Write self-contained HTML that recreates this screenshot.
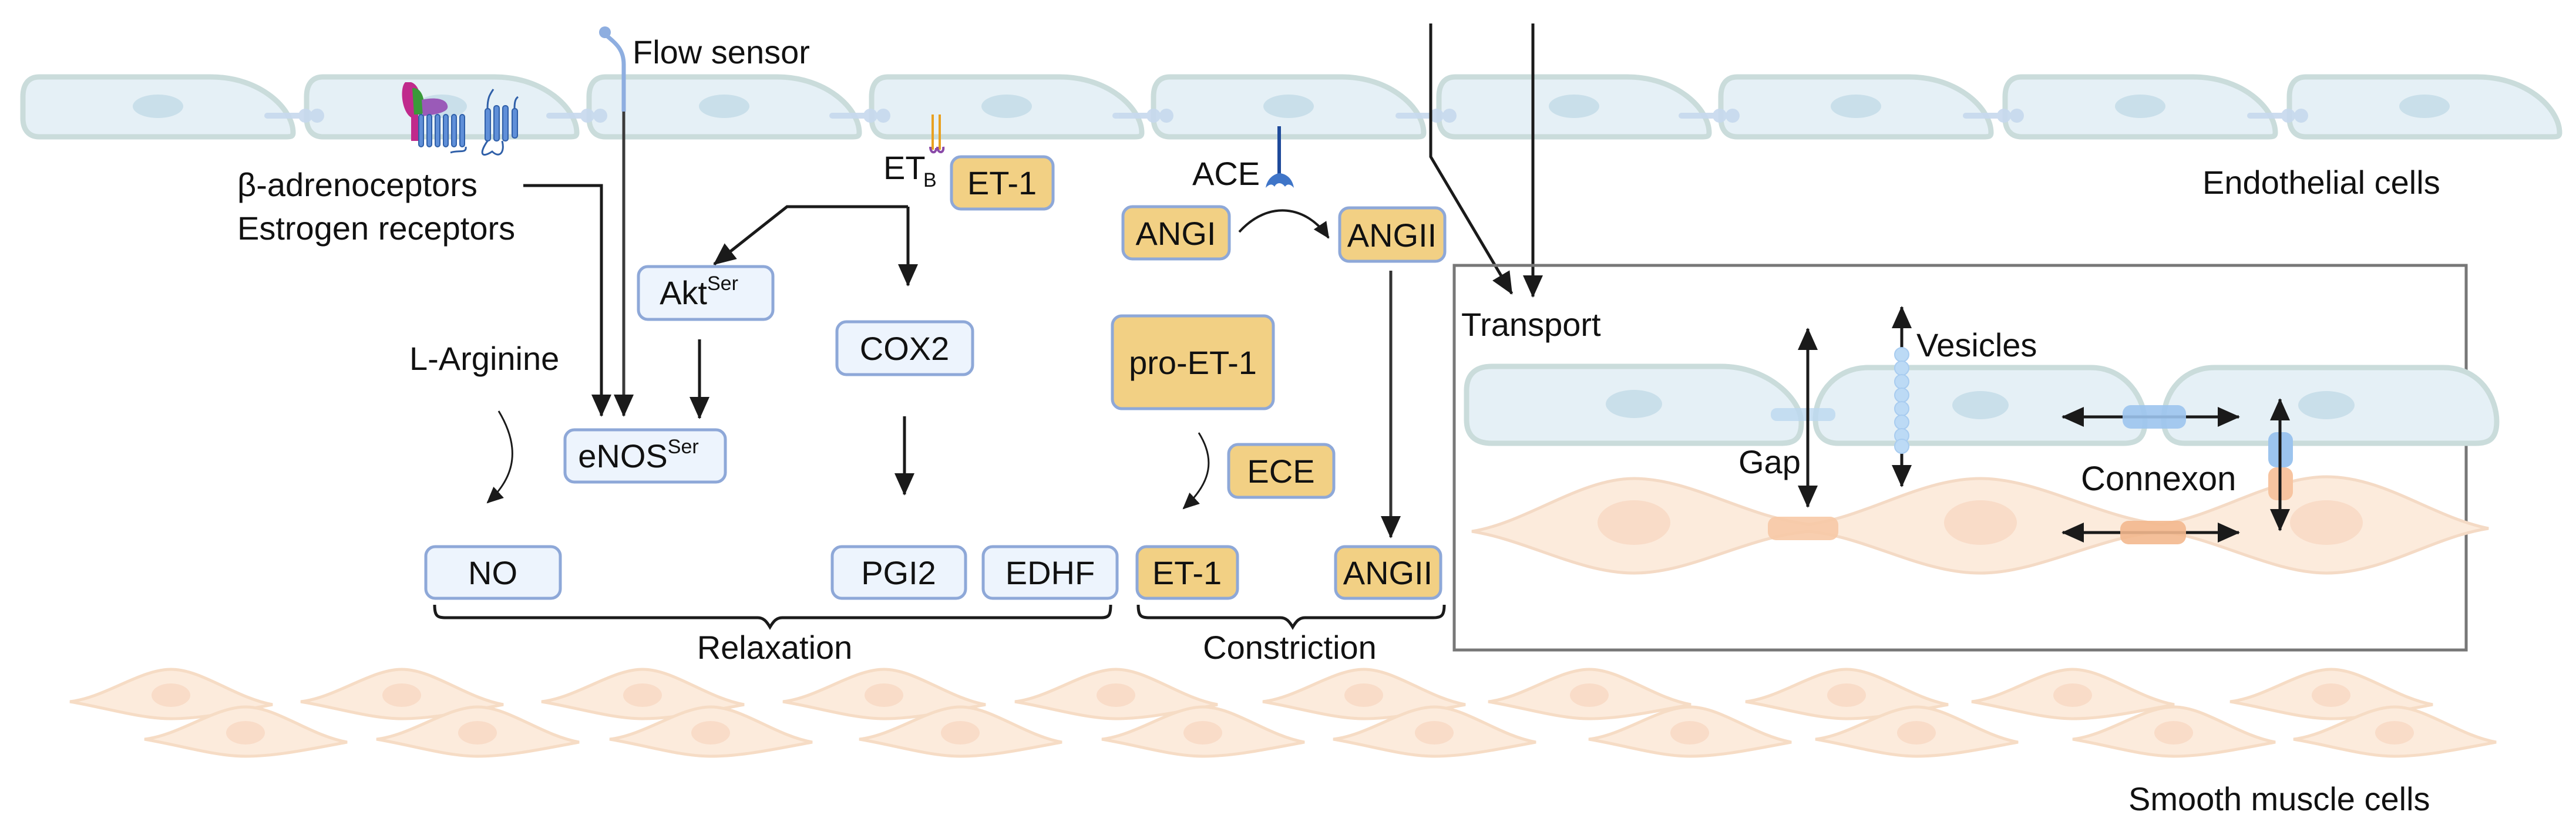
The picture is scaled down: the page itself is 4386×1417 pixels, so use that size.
<!DOCTYPE html>
<html><head><meta charset="utf-8"><style>
html,body{margin:0;padding:0;background:#fff}
svg{display:block}
text{font-family:"Liberation Sans",sans-serif;fill:#111}
</style></head><body>
<svg width="4386" height="1417" viewBox="0 0 4386 1417" xmlns="http://www.w3.org/2000/svg">
<defs>
<marker id="ah" markerUnits="userSpaceOnUse" markerWidth="40" markerHeight="34" refX="36" refY="17" orient="auto">
<path d="M0,0 L38,17 L0,34 Z" fill="#1a1a1a"/></marker>
<marker id="ahs" markerUnits="userSpaceOnUse" markerWidth="30" markerHeight="26" refX="26" refY="13" orient="auto">
<path d="M0,0 L28,13 L0,26 Z" fill="#1a1a1a"/></marker>
<marker id="ab" markerUnits="userSpaceOnUse" markerWidth="40" markerHeight="34" refX="4" refY="17" orient="auto">
<path d="M40,0 L2,17 L40,34 Z" fill="#1a1a1a"/></marker>
<g id="ec">
<path d="M28,0 H320 C405,0 460,55 460,95 C460,102 455,102 448,102 H28 C10,102 0,90 0,70 V34 C0,12 10,0 28,0Z" fill="#e5f0f6" stroke="#cadcdb" stroke-width="9"/>
<ellipse cx="230" cy="50" rx="43" ry="20" fill="#c9dfea"/>
</g>
<g id="sm">
<path d="M0,55 C60,48 120,0 172,0 C225,0 280,48 345,60 C280,72 225,84 172,84 C120,84 60,65 0,55Z" fill="#fcebdc" stroke="#f6dcc5" stroke-width="5"/>
<ellipse cx="172" cy="44" rx="33" ry="20" fill="#f9dcc8"/>
</g>
</defs>

<!-- endothelial row -->
<g>
<use href="#ec" x="39" y="131"/><use href="#ec" x="522" y="131"/><use href="#ec" x="1003" y="131"/>
<use href="#ec" x="1484" y="131"/><use href="#ec" x="1964" y="131"/><use href="#ec" x="2450" y="131"/>
<use href="#ec" x="2930" y="131"/><use href="#ec" x="3414" y="131"/><use href="#ec" x="3898" y="131"/>
</g>
<g fill="#c7d9ee" opacity="0.9">
<rect x="450" y="192" width="90" height="10" rx="5"/><circle cx="520" cy="197" r="12"/><circle cx="540" cy="197" r="12"/>
<rect x="930" y="192" width="90" height="10" rx="5"/><circle cx="1000" cy="197" r="12"/><circle cx="1022" cy="197" r="12"/>
<rect x="1412" y="192" width="90" height="10" rx="5"/><circle cx="1482" cy="197" r="12"/><circle cx="1504" cy="197" r="12"/>
<rect x="1894" y="192" width="90" height="10" rx="5"/><circle cx="1964" cy="197" r="12"/><circle cx="1986" cy="197" r="12"/>
<rect x="2376" y="192" width="90" height="10" rx="5"/><circle cx="2446" cy="197" r="12"/><circle cx="2468" cy="197" r="12"/>
<rect x="2858" y="192" width="90" height="10" rx="5"/><circle cx="2928" cy="197" r="12"/><circle cx="2950" cy="197" r="12"/>
<rect x="3342" y="192" width="90" height="10" rx="5"/><circle cx="3412" cy="197" r="12"/><circle cx="3434" cy="197" r="12"/>
<rect x="3826" y="192" width="90" height="10" rx="5"/><circle cx="3896" cy="197" r="12"/><circle cx="3918" cy="197" r="12"/>
</g>

<!-- receptors -->
<g>
<path d="M690,140 C680,150 684,190 700,200 L700,240 L712,240 L712,190 C720,170 715,145 700,140Z" fill="#c02a8c"/>
<path d="M702,150 C725,148 725,190 718,195 L705,195Z" fill="#3a9a3a"/>
<path d="M718,170 C740,165 760,168 762,180 C765,192 740,195 720,198Z" fill="#9a5ab8"/>
<g fill="#5f8fd8" stroke="#2f5fa8" stroke-width="2">
<rect x="713" y="195" width="8" height="55" rx="4"/><rect x="727" y="195" width="8" height="55" rx="4"/><rect x="741" y="195" width="8" height="55" rx="4"/><rect x="755" y="195" width="8" height="55" rx="4"/><rect x="769" y="195" width="8" height="55" rx="4"/><rect x="783" y="195" width="8" height="55" rx="4"/>
<rect x="826" y="185" width="9" height="55" rx="4"/><rect x="841" y="180" width="9" height="60" rx="4"/><rect x="856" y="180" width="9" height="60" rx="4"/><rect x="872" y="185" width="9" height="50" rx="4"/>
</g>
<path d="M767,260 C780,255 795,262 793,250 M830,240 C815,262 820,270 838,258 C850,270 860,260 855,240 M830,185 C830,165 835,160 840,152 M876,185 C876,172 878,168 882,165" stroke="#2f5fa8" stroke-width="3" fill="none"/>
</g>

<!-- flow sensor -->
<circle cx="1030" cy="55" r="10" fill="#8eaee0"/>
<path d="M1032,60 C1050,75 1062,85 1062,110 L1062,190" stroke="#8eaee0" stroke-width="7" fill="none"/>
<line x1="1062" y1="190" x2="1062" y2="708" stroke="#3a3a3a" stroke-width="5" marker-end="url(#ah)"/>
<text x="1077" y="108" font-size="56">Flow sensor</text>

<!-- beta / estrogen -->
<text x="404" y="334" font-size="56">β-adrenoceptors</text>
<text x="404" y="408" font-size="56">Estrogen receptors</text>
<polyline points="891,316 1024,316 1024,708" stroke="#1a1a1a" stroke-width="5" fill="none" marker-end="url(#ah)"/>

<!-- ETB -->
<g stroke-width="4" fill="none"><path d="M1588,195 V255 M1600,195 V255" stroke="#e8a020"/><path d="M1584,250 C1584,262 1594,262 1594,252 M1596,250 C1596,262 1608,262 1606,250" stroke="#8a4aa8"/></g>
<text x="1504" y="305" font-size="56">ET</text><text x="1572" y="318" font-size="34">B</text>

<!-- boxes style -->
<g stroke="#8ea8d8" stroke-width="5">
<rect x="1620" y="267" width="173" height="89" rx="16" fill="#f2d084"/>
<rect x="1087" y="454" width="229" height="90" rx="16" fill="#edf4fd"/>
<rect x="1425" y="548" width="231" height="90" rx="16" fill="#edf4fd"/>
<rect x="962" y="732" width="273" height="89" rx="16" fill="#edf4fd"/>
<rect x="725" y="931" width="229" height="88" rx="16" fill="#edf4fd"/>
<rect x="1417" y="931" width="227" height="88" rx="16" fill="#edf4fd"/>
<rect x="1674" y="931" width="228" height="88" rx="16" fill="#edf4fd"/>
<rect x="1936" y="931" width="171" height="88" rx="16" fill="#f2d084"/>
<rect x="2274" y="931" width="179" height="88" rx="16" fill="#f2d084"/>
<rect x="1912" y="352" width="181" height="89" rx="16" fill="#f2d084"/>
<rect x="2281" y="354" width="179" height="91" rx="16" fill="#f2d084"/>
<rect x="1894" y="538" width="274" height="158" rx="16" fill="#f2d084"/>
<rect x="2092" y="757" width="179" height="90" rx="16" fill="#f2d084"/>
</g>
<g font-size="56" text-anchor="middle">
<text x="1706" y="331">ET-1</text>
<text x="1190" y="518">Akt<tspan font-size="34" dy="-24">Ser</tspan></text>
<text x="1540" y="613">COX2</text>
<text x="1087" y="796">eNOS<tspan font-size="34" dy="-24">Ser</tspan></text>
<text x="839" y="995">NO</text>
<text x="1530" y="995">PGI2</text>
<text x="1788" y="995">EDHF</text>
<text x="2021" y="995">ET-1</text>
<text x="2363" y="995">ANGII</text>
<text x="2002" y="417">ANGI</text>
<text x="2370" y="420">ANGII</text>
<text x="2031" y="637">pro-ET-1</text>
<text x="2181" y="822">ECE</text>
</g>

<!-- ET-1 branch arrows -->
<polyline points="1546,352 1340,352 1216,450" stroke="#1a1a1a" stroke-width="5" fill="none" marker-end="url(#ah)"/>
<line x1="1546" y1="352" x2="1546" y2="486" stroke="#1a1a1a" stroke-width="5" marker-end="url(#ah)"/>
<line x1="1191" y1="578" x2="1191" y2="712" stroke="#1a1a1a" stroke-width="5" marker-end="url(#ah)"/>
<line x1="1540" y1="709" x2="1540" y2="842" stroke="#1a1a1a" stroke-width="5" marker-end="url(#ah)"/>

<text x="697" y="630" font-size="56">L-Arginine</text>
<path d="M849,700 C885,760 880,810 830,856" stroke="#1a1a1a" stroke-width="3" fill="none" marker-end="url(#ahs)"/>

<!-- ACE -->
<line x1="2178" y1="215" x2="2178" y2="300" stroke="#1e4a9a" stroke-width="6"/>
<path d="M2155,320 C2158,300 2175,295 2178,295 C2185,295 2200,300 2203,320 C2198,314 2192,312 2188,318 C2182,310 2174,310 2170,318 C2166,312 2160,314 2155,320Z" fill="#3f75c8"/>
<text x="2030" y="315" font-size="56">ACE</text>
<path d="M2110,395 C2160,340 2225,350 2262,405" stroke="#1a1a1a" stroke-width="4" fill="none" marker-end="url(#ahs)"/>
<line x1="2368" y1="461" x2="2368" y2="915" stroke="#333" stroke-width="5" marker-end="url(#ah)"/>
<path d="M2041,737 C2068,780 2065,820 2015,866" stroke="#1a1a1a" stroke-width="3" fill="none" marker-end="url(#ahs)"/>

<!-- braces -->
<path d="M740,1030 C740,1050 745,1052 760,1052 H1290 C1300,1052 1305,1058 1311,1068 C1317,1058 1322,1052 1332,1052 H1875 C1888,1052 1891,1048 1891,1030" stroke="#1a1a1a" stroke-width="5" fill="none"/>
<path d="M1938,1030 C1938,1050 1943,1052 1958,1052 H2180 C2190,1052 2195,1058 2201,1068 C2207,1058 2212,1052 2222,1052 H2440 C2455,1052 2459,1048 2459,1030" stroke="#1a1a1a" stroke-width="5" fill="none"/>
<text x="1319" y="1122" font-size="56" text-anchor="middle">Relaxation</text>
<text x="2196" y="1122" font-size="56" text-anchor="middle">Constriction</text>

<!-- transport -->
<polyline points="2436,40 2436,267 2574,500" stroke="#1a1a1a" stroke-width="5" fill="none" marker-end="url(#ah)"/>
<line x1="2610" y1="40" x2="2610" y2="505" stroke="#1a1a1a" stroke-width="5" marker-end="url(#ah)"/>

<text x="3750" y="330" font-size="56">Endothelial cells</text>

<!-- box -->
<rect x="2476" y="452" width="1723" height="655" fill="none" stroke="#777" stroke-width="5"/>
<text x="2488" y="572" font-size="56">Transport</text>

<!-- inner smooth muscle -->
<path d="M2506,905 C2600,890 2690,815 2782,815 C2880,815 2970,880 3080,893 C3180,880 3270,815 3372,815 C3470,815 3570,880 3680,893 C3770,880 3870,812 3961,812 C4060,812 4140,880 4237,900 C4140,915 4060,976 3961,976 C3870,976 3770,915 3680,905 C3570,915 3470,976 3372,976 C3270,976 3180,915 3080,905 C2970,915 2880,976 2782,976 C2690,976 2600,920 2506,905Z" fill="#fcebdc" stroke="#f4dac5" stroke-width="5"/>
<ellipse cx="2782" cy="890" rx="62" ry="38" fill="#f9dcc8"/>
<ellipse cx="3372" cy="890" rx="62" ry="38" fill="#f9dcc8"/>
<ellipse cx="3961" cy="890" rx="62" ry="38" fill="#f9dcc8"/>
<!-- inner endothelial -->
<g>
<path d="M2540,624 H2930 C3010,624 3067,680 3067,720 C3067,752 3050,755 3030,755 H2540 C2510,755 2497,740 2497,715 V665 C2497,640 2510,624 2540,624Z" fill="#e5f0f6" stroke="#cadcdb" stroke-width="9"/>
<path d="M3180,626 H3560 C3620,626 3652,680 3652,718 C3652,750 3635,755 3615,755 H3130 C3105,755 3091,740 3091,715 C3091,665 3130,626 3180,626Z" fill="#e5f0f6" stroke="#cadcdb" stroke-width="9"/>
<path d="M3770,626 H4160 C4225,626 4251,680 4251,718 C4251,750 4235,755 4215,755 H3720 C3695,755 3684,740 3684,715 C3684,665 3720,626 3770,626Z" fill="#e5f0f6" stroke="#cadcdb" stroke-width="9"/>
<ellipse cx="2782" cy="688" rx="48" ry="24" fill="#c9dfea"/>
<ellipse cx="3372" cy="690" rx="48" ry="24" fill="#c9dfea"/>
<ellipse cx="3961" cy="690" rx="48" ry="24" fill="#c9dfea"/>
</g>
<g opacity="0.8"><rect x="3015" y="695" width="110" height="22" rx="10" fill="#bcd8f0"/></g>
<rect x="3010" y="880" width="120" height="40" rx="14" fill="#f7c9a6" opacity="0.9"/>
<!-- Gap & vesicles -->
<line x1="3078" y1="863" x2="3078" y2="560" stroke="#1a1a1a" stroke-width="5" marker-end="url(#ah)" marker-start="url(#ab)"/>
<text x="2960" y="806" font-size="56">Gap</text>
<line x1="3238" y1="828" x2="3238" y2="523" stroke="#1a1a1a" stroke-width="5" marker-end="url(#ah)" marker-start="url(#ab)"/>
<g fill="#bcdaf5" stroke="#a8ccf0" stroke-width="2">
<circle cx="3238" cy="604" r="12"/><circle cx="3238" cy="627" r="12"/><circle cx="3238" cy="650" r="12"/><circle cx="3238" cy="673" r="12"/><circle cx="3238" cy="696" r="12"/><circle cx="3238" cy="719" r="12"/><circle cx="3238" cy="742" r="12"/><circle cx="3238" cy="760" r="12"/></g>
<text x="3263" y="607" font-size="56">Vesicles</text>
<!-- connexon -->
<line x1="3812" y1="710" x2="3512" y2="710" stroke="#1a1a1a" stroke-width="5" marker-end="url(#ah)" marker-start="url(#ab)"/>
<rect x="3614" y="690" width="108" height="40" rx="14" fill="#9cc4ee" opacity="0.9"/>
<line x1="3812" y1="907" x2="3512" y2="907" stroke="#1a1a1a" stroke-width="5" marker-end="url(#ah)" marker-start="url(#ab)"/>
<rect x="3610" y="887" width="112" height="40" rx="14" fill="#f3b88e" opacity="0.9"/>
<rect x="3862" y="736" width="42" height="60" rx="14" fill="#9cc4ee"/>
<rect x="3862" y="796" width="42" height="56" rx="14" fill="#f7c4a0"/>
<line x1="3882" y1="903" x2="3882" y2="680" stroke="#1a1a1a" stroke-width="5" marker-end="url(#ah)" marker-start="url(#ab)"/>
<text x="3543" y="835" font-size="58">Connexon</text>

<!-- bottom smooth muscle rows -->
<g>
<use href="#sm" x="119" y="1140"/><use href="#sm" x="512" y="1140"/><use href="#sm" x="922" y="1140"/><use href="#sm" x="1333" y="1140"/><use href="#sm" x="1728" y="1140"/><use href="#sm" x="2150" y="1140"/><use href="#sm" x="2534" y="1140"/><use href="#sm" x="2972" y="1140"/><use href="#sm" x="3357" y="1140"/><use href="#sm" x="3797" y="1140"/>
<use href="#sm" x="246" y="1204"/><use href="#sm" x="641" y="1204"/><use href="#sm" x="1038" y="1204"/><use href="#sm" x="1463" y="1204"/><use href="#sm" x="1876" y="1204"/><use href="#sm" x="2270" y="1204"/><use href="#sm" x="2705" y="1204"/><use href="#sm" x="3091" y="1204"/><use href="#sm" x="3529" y="1204"/><use href="#sm" x="3905" y="1204"/>
</g>
<text x="3624" y="1380" font-size="56">Smooth muscle cells</text>
</svg>
</body></html>
